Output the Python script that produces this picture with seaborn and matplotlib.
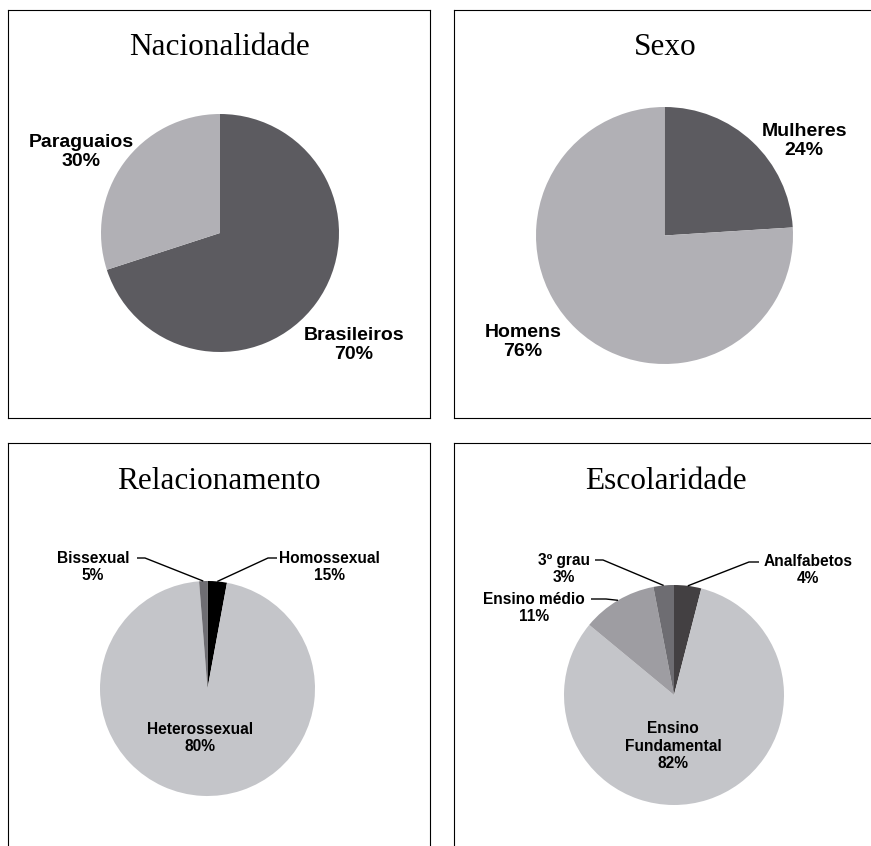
import numpy as np
import matplotlib
matplotlib.use('Agg')
import matplotlib.pyplot as plt
import seaborn as sns

sns.set_theme(style='white')
plt.rcParams['font.family'] = ['Liberation Sans', 'DejaVu Sans']

# --- dados ---
nac_labels = ['Brasileiros', 'Paraguaios']
nac_values = [70, 30]
nac_colors = ['#5c5b60', '#b1b0b5']

sexo_labels = ['Mulheres', 'Homens']
sexo_values = [24, 76]
sexo_colors = ['#5c5b60', '#b1b0b5']

rel_labels = ['Homossexual', 'Heterossexual', 'Bissexual']
rel_pct = [15, 80, 5]              # percentuais escritos nos rótulos
rel_slices = [2.9, 95.85, 1.25]    # tamanho das fatias como desenhadas no original
rel_colors = ['#000000', '#c4c5c9', '#6e6d72']

esc_labels = ['Analfabetos', 'Ensino\nFundamental', 'Ensino médio', '3º grau']
esc_values = [4, 82, 11, 3]
esc_colors = ['#434042', '#c4c5c9', '#9e9da2', '#6e6d72']

W, H = 871, 846
fig = plt.figure(figsize=(W / 100, H / 100), dpi=100)


def panel(x0, y0, x1, y1):
    # eixo em coordenadas de pixel (y para cima)
    ax = fig.add_axes([x0 / W, (H - y1) / H, (x1 - x0) / W, (y1 - y0) / H])
    ax.set_xlim(x0, x1)
    ax.set_ylim(H - y1, H - y0)
    for s in ax.spines.values():
        s.set_visible(True)
        s.set_color('black')
        s.set_linewidth(0.8)
    return ax


def draw_pie(ax, values, colors, cx, cy, r):
    wedges, _ = ax.pie(values, colors=colors, startangle=90, counterclock=False,
                       center=(cx, H - cy), radius=r, frame=True,
                       wedgeprops=dict(linewidth=0))
    ax.set_xticks([])
    ax.set_yticks([])
    return wedges


def fix(ax, x0, y0, x1, y1):
    ax.set_xlim(x0, x1)
    ax.set_ylim(H - y1, H - y0)
    ax.set_aspect('auto')


def mid_point(w):
    a = np.deg2rad((w.theta1 + w.theta2) / 2)
    return w.center[0] + w.r * np.cos(a), w.center[1] + w.r * np.sin(a)


def title(ax, txt, x, y):
    ax.text(x, H - y, txt, ha='center', va='baseline', fontsize=22.5,
            family='Liberation Serif', color='black')


def label(ax, txt, x, y, size):
    ax.text(x, H - y, txt, ha='center', va='center', fontsize=size,
            fontweight='bold', color='black', linespacing=1.2)


def leader(ax, pts, w):
    px, py = mid_point(w)
    xs = [p[0] for p in pts] + [px]
    ys = [H - p[1] for p in pts] + [py]
    ax.plot(xs, ys, color='black', lw=1.0, solid_capstyle='butt')


# Nacionalidade
box = (8, 10, 430, 418)
ax = panel(*box)
draw_pie(ax, nac_values, nac_colors, 220, 233, 119)
fix(ax, *box)
title(ax, 'Nacionalidade', 219, 55)
label(ax, f'{nac_labels[0]}\n{nac_values[0]}%', 354, 345, 14)
label(ax, f'{nac_labels[1]}\n{nac_values[1]}%', 81, 152, 14)

# Sexo
box = (454, 10, 874, 418)
ax = panel(*box)
draw_pie(ax, sexo_values, sexo_colors, 664.5, 235.5, 128.5)
fix(ax, *box)
title(ax, 'Sexo', 665, 55)
label(ax, f'{sexo_labels[0]}\n{sexo_values[0]}%', 804, 141, 14)
label(ax, f'{sexo_labels[1]}\n{sexo_values[1]}%', 523, 342, 14)

# Relacionamento
box = (8, 443, 430, 850)
ax = panel(*box)
w = draw_pie(ax, rel_slices, rel_colors, 207.5, 688.5, 107.5)
fix(ax, *box)
title(ax, 'Relacionamento', 219, 489)
label(ax, f'{rel_labels[0]}\n{rel_pct[0]}%', 329, 567, 11.2)
label(ax, f'{rel_labels[1]}\n{rel_pct[1]}%', 200, 738, 11.2)
label(ax, f'{rel_labels[2]}\n{rel_pct[2]}%', 93, 567, 11.2)
leader(ax, [(277, 558), (268, 558)], w[0])
leader(ax, [(137, 558), (145, 558)], w[2])

# Escolaridade
box = (454, 443, 874, 850)
ax = panel(*box)
w = draw_pie(ax, esc_values, esc_colors, 674, 695, 110)
fix(ax, *box)
title(ax, 'Escolaridade', 666, 489)
label(ax, f'{esc_labels[0]}\n{esc_values[0]}%', 808, 570, 11.2)
label(ax, f'{esc_labels[1]}\n{esc_values[1]}%', 673, 746, 11.2)
label(ax, f'{esc_labels[2]}\n{esc_values[2]}%', 534, 608, 11.2)
label(ax, f'{esc_labels[3]}\n{esc_values[3]}%', 564, 569, 11.2)
leader(ax, [(759, 562), (749, 562)], w[0])
leader(ax, [(591, 599), (606, 599)], w[2])
leader(ax, [(595, 560), (603, 560)], w[3])

fig.savefig('out.png', dpi=100, facecolor='white')
